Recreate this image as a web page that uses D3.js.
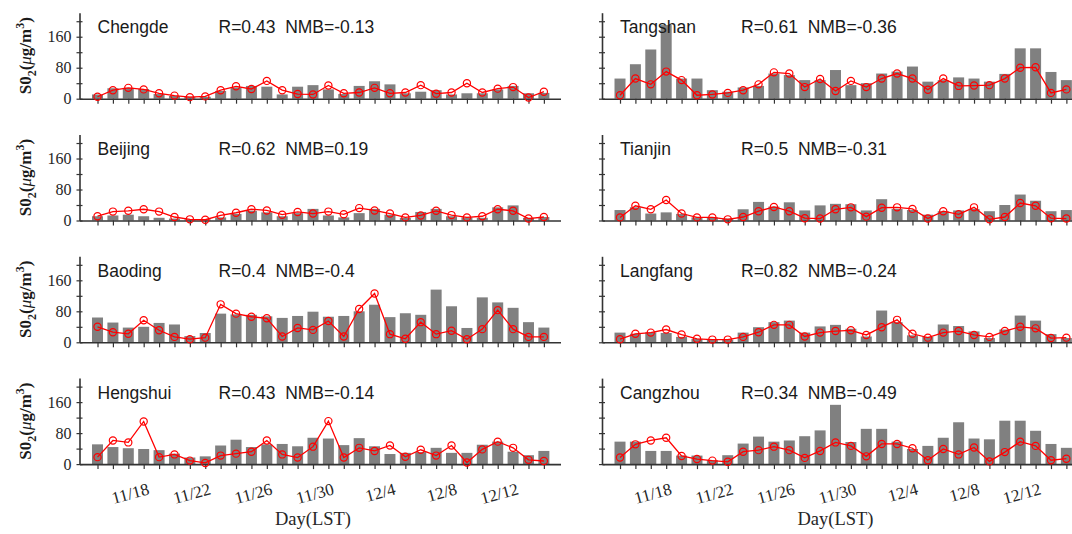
<!DOCTYPE html>
<html>
<head>
<meta charset="utf-8">
<script src="https://cdn.jsdelivr.net/npm/d3@7"></script>
<style>
  body { margin: 0; background: #fff; }
  svg { display: block; }
</style>
</head>
<body>
<svg id="chart" width="1072" height="534"></svg>
<script>
// Days shown on the x axis (one bar / marker per day)
const days = ["11/15", "11/16", "11/17", "11/18", "11/19", "11/20", "11/21", "11/22", "11/23", "11/24",
  "11/25", "11/26", "11/27", "11/28", "11/29", "11/30", "12/1", "12/2", "12/3", "12/4",
  "12/5", "12/6", "12/7", "12/8", "12/9", "12/10", "12/11", "12/12", "12/13", "12/14"];
const tickLabels = ["11/18", "11/22", "11/26", "11/30", "12/4", "12/8", "12/12"];
const yTicks = [0, 40, 80, 120, 160, 200];
const yLabels = [0, 80, 160];

// Station names and stats, left column top->bottom, then right column
const cities = ["Chengde", "Beijing", "Baoding", "Hengshui", "Tangshan", "Tianjin", "Langfang", "Cangzhou"];
const rVals = ["0.43", "0.62", "0.4", "0.43", "0.61", "0.5", "0.82", "0.34"];
const nmbVals = ["-0.13", "0.19", "-0.4", "-0.14", "-0.36", "-0.31", "-0.24", "-0.49"];

// Observed SO2 (grey bars) and simulated SO2 (red line), ug/m3
const chengdeObs = [11, 27, 28, 25, 12, 7, 5, 5, 20, 29, 33, 31, 11, 31, 35, 24, 12, 33, 45, 37, 14, 18, 22, 11, 14, 14, 24, 33, 14, 15];
const chengdeSim = [5, 22, 28, 24, 14, 8, 4, 6, 22, 32, 25, 46, 22, 12, 11, 34, 14, 16, 28, 14, 16, 35, 13, 16, 40, 16, 26, 30, 3, 18];
const beijingObs = [11, 13, 15, 11, 7, 5, 3, 3, 8, 17, 25, 21, 11, 19, 30, 13, 8, 19, 30, 15, 7, 22, 30, 11, 8, 7, 34, 39, 7, 9];
const beijingSim = [11, 23, 25, 29, 23, 9, 3, 2, 13, 20, 29, 26, 15, 22, 18, 23, 16, 32, 26, 18, 8, 13, 25, 14, 8, 11, 29, 25, 5, 9];
const baodingObs = [64, 51, 38, 40, 50, 46, 16, 24, 74, 72, 71, 67, 63, 68, 79, 66, 68, 80, 97, 65, 75, 71, 136, 93, 37, 116, 103, 89, 52, 38];
const baodingSim = [40, 26, 22, 57, 31, 14, 8, 12, 98, 74, 66, 62, 15, 37, 32, 55, 15, 86, 126, 21, 9, 52, 21, 30, 8, 34, 83, 34, 14, 14];
const hengshuiObs = [51, 44, 41, 39, 36, 27, 17, 20, 48, 63, 44, 51, 52, 46, 68, 66, 49, 67, 46, 26, 29, 31, 42, 29, 29, 50, 58, 32, 23, 34];
const hengshuiSim = [18, 61, 56, 110, 18, 25, 9, 3, 22, 27, 32, 61, 25, 17, 45, 111, 17, 42, 34, 48, 19, 37, 22, 48, 4, 38, 58, 42, 11, 8];
const tangshanObs = [52, 89, 127, 190, 52, 52, 22, 18, 29, 33, 65, 61, 48, 48, 74, 35, 40, 65, 70, 83, 44, 48, 55, 52, 44, 64, 130, 130, 69, 48];
const tangshanSim = [9, 52, 37, 70, 48, 9, 11, 15, 22, 37, 68, 65, 30, 51, 20, 46, 30, 52, 65, 52, 23, 52, 33, 34, 35, 52, 80, 81, 15, 24];
const tianjinObs = [27, 34, 18, 21, 17, 8, 8, 5, 29, 48, 36, 47, 26, 39, 43, 42, 26, 55, 30, 27, 15, 24, 26, 30, 24, 40, 67, 51, 24, 27];
const tianjinSim = [8, 38, 29, 53, 18, 8, 8, 3, 9, 24, 35, 24, 6, 5, 29, 34, 10, 33, 34, 30, 5, 24, 16, 34, 3, 9, 45, 38, 6, 5];
const langfangObs = [25, 22, 26, 24, 14, 9, 7, 7, 25, 39, 52, 56, 25, 41, 45, 35, 15, 82, 52, 18, 14, 46, 42, 28, 11, 33, 69, 56, 21, 11];
const langfangSim = [8, 22, 25, 33, 20, 9, 7, 7, 14, 26, 45, 45, 15, 25, 29, 31, 19, 39, 58, 22, 12, 25, 29, 19, 14, 29, 40, 36, 11, 12];
const cangzhouObs = [58, 58, 34, 34, 22, 22, 10, 23, 53, 71, 58, 61, 72, 87, 153, 57, 91, 91, 58, 39, 47, 68, 108, 66, 64, 112, 112, 86, 52, 42];
const cangzhouSim = [17, 51, 61, 68, 21, 13, 9, 6, 32, 36, 45, 36, 16, 34, 56, 47, 20, 52, 52, 41, 10, 39, 25, 43, 7, 31, 58, 47, 10, 14];

const obsSeries = [chengdeObs, beijingObs, baodingObs, hengshuiObs, tangshanObs, tianjinObs, langfangObs, cangzhouObs];
const simSeries = [chengdeSim, beijingSim, baodingSim, hengshuiSim, tangshanSim, tianjinSim, langfangSim, cangzhouSim];

// Layout
const colX = [79.5, 602];
const rowBase = [98.7, 220.5, 342.3, 464.1];
const plotW = 481;
const plotH = 86;
const yMax = 222;
const barW = 11;
const axisColor = "#333";
const serif = "'Liberation Serif', 'Times New Roman', serif";
const sans = "'Liberation Sans', Arial, sans-serif";

const svg = d3.select("#chart");

cities.forEach((city, k) => {
  const col = Math.floor(k / 4);
  const row = k % 4;
  const x0 = colX[col];
  const base = rowBase[row];

  const x = d3.scaleLinear().domain([-1.17, 30.08]).range([x0, x0 + plotW]);
  const y = d3.scaleLinear().domain([0, yMax]).range([base, base - plotH]);

  const g = svg.append("g");

  // Bars (observations)
  g.selectAll(".bar")
    .data(obsSeries[k])
    .enter()
    .append("rect")
    .attr("x", (d, i) => x(i) - barW / 2)
    .attr("y", (d) => y(d))
    .attr("width", barW)
    .attr("height", (d) => y(0) - y(d))
    .attr("fill", "#808080");

  // x axis
  const xAxis = d3.axisBottom(x)
    .tickValues(d3.range(days.length))
    .tickSize(5)
    .tickSizeOuter(0)
    .tickFormat((i) => (row === 3 && tickLabels.includes(days[i]) ? days[i] : ""));

  const gx = g.append("g")
    .attr("transform", `translate(0,${base})`)
    .call(xAxis);
  gx.select(".domain").attr("stroke", axisColor).attr("stroke-width", 1.6);
  gx.selectAll(".tick line").attr("stroke", axisColor).attr("stroke-width", 1.2);
  gx.selectAll(".tick text")
    .attr("y", 0)
    .attr("dy", 0)
    .attr("text-anchor", "end")
    .attr("transform", "translate(6,30) rotate(-15)")
    .attr("fill", "#262626")
    .style("font-family", serif)
    .style("font-size", "17px");

  // y axis
  const yAxis = d3.axisLeft(y)
    .tickValues(yTicks)
    .tickSize(3)
    .tickSizeOuter(0)
    .tickFormat((v) => (col === 0 && yLabels.includes(v) ? v : ""));

  const gy = g.append("g")
    .attr("transform", `translate(${x0},0)`)
    .call(yAxis);
  gy.select(".domain").attr("stroke", axisColor).attr("stroke-width", 1.6);
  gy.selectAll(".tick line").attr("x1", 3).attr("x2", -3).attr("stroke", axisColor).attr("stroke-width", 1.2);
  gy.selectAll(".tick text")
    .attr("x", -8)
    .attr("fill", "#262626")
    .style("font-family", serif)
    .style("font-size", "16px");

  // Simulated line + hollow circle markers
  const line = d3.line()
    .x((d, i) => x(i))
    .y((d) => y(d));

  g.append("path")
    .datum(simSeries[k])
    .attr("d", line)
    .attr("fill", "none")
    .attr("stroke", "#ff0000")
    .attr("stroke-width", 1.3);

  g.selectAll(".mark")
    .data(simSeries[k])
    .enter()
    .append("circle")
    .attr("cx", (d, i) => x(i))
    .attr("cy", (d) => y(d))
    .attr("r", 3.6)
    .attr("fill", "none")
    .attr("stroke", "#ff0000")
    .attr("stroke-width", 1.2);

  // Station name and stats
  g.append("text")
    .attr("x", x0 + 18)
    .attr("y", base - 65.5)
    .attr("fill", "#1a1a1a")
    .style("font-family", sans)
    .style("font-size", "17.5px")
    .text(city);

  g.append("text")
    .attr("x", x0 + 139)
    .attr("y", base - 65.5)
    .attr("fill", "#1a1a1a")
    .style("font-family", sans)
    .style("font-size", "17.5px")
    .style("white-space", "pre")
    .text(`R=${rVals[k]}  NMB=${nmbVals[k]}`);

  // y axis title on left column
  if (col === 0) {
    const t = g.append("text")
      .attr("transform", `translate(31,${base - 43}) rotate(-90)`)
      .attr("text-anchor", "middle")
      .attr("fill", "#1a1a1a")
      .style("font-family", serif)
      .style("font-size", "17px")
      .style("font-weight", "bold");
    t.append("tspan").text("S0");
    t.append("tspan").attr("dy", 5).style("font-size", "12px").text("2");
    t.append("tspan").attr("dy", -5).text("(");
    t.append("tspan").style("font-style", "italic").style("font-weight", "normal").text("\u03bc");
    t.append("tspan").text("g/m");
    t.append("tspan").attr("dy", -7).style("font-size", "12px").text("3");
    t.append("tspan").attr("dy", 7).text(")");
  }

  // x axis title on bottom row
  if (row === 3) {
    g.append("text")
      .attr("x", x0 + plotW / 2 - 7)
      .attr("y", 525)
      .attr("text-anchor", "middle")
      .attr("fill", "#262626")
      .style("font-family", serif)
      .style("font-size", "18.5px")
      .text("Day(LST)");
  }
});
</script>
</body>
</html>
